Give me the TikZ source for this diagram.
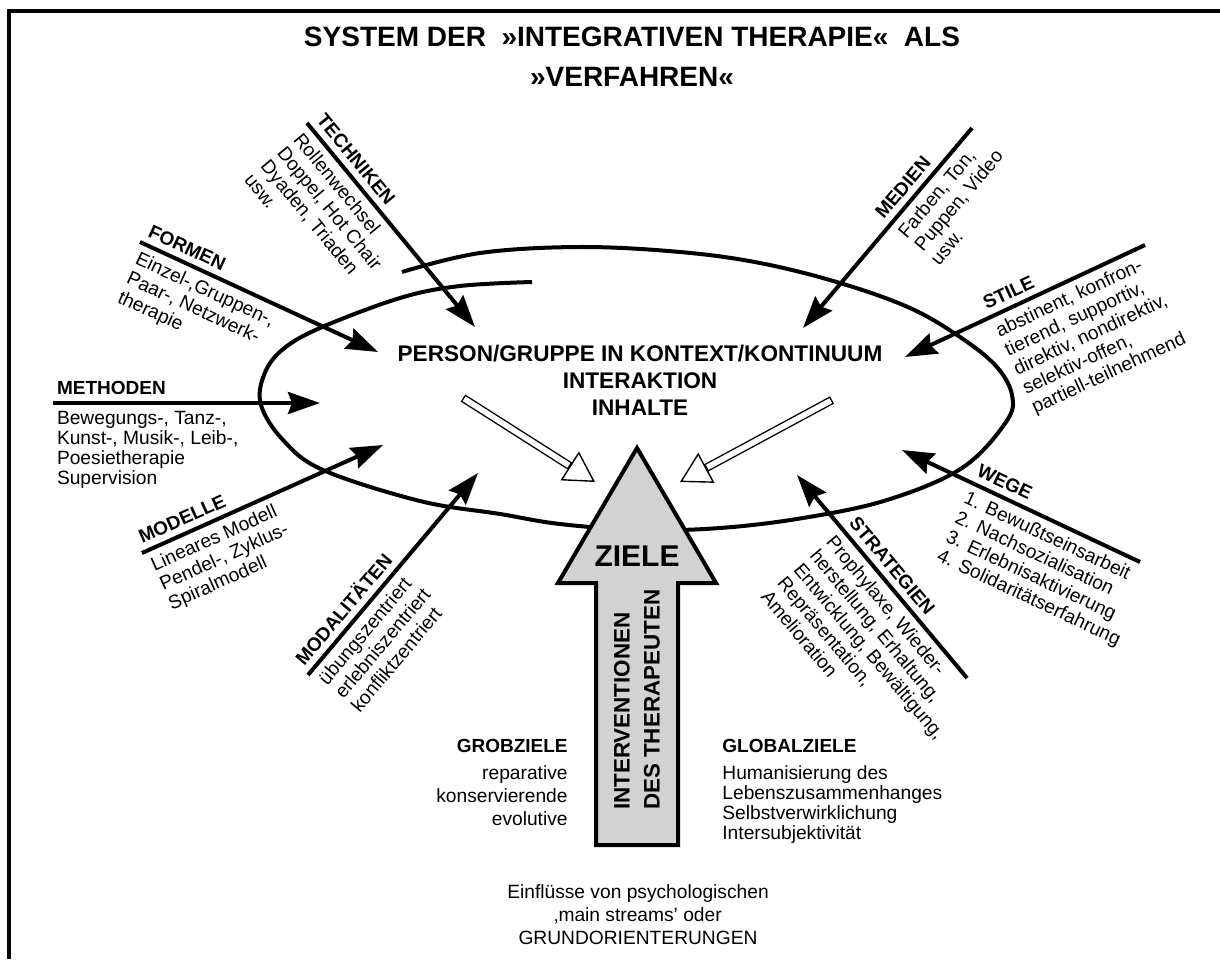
\documentclass[tikz,border=0pt]{standalone}
\usepackage{fontspec}
\setmainfont{Liberation Sans}
\usetikzlibrary{arrows.meta}

\tikzset{
  frame/.style={line width=1.7pt},
  spiral/.style={line width=2pt},
  inarrow/.style={line width=2pt, -{Stealth[length=16pt, width=11pt, inset=2pt]}},
  hollow/.style={line width=4.2pt, -{Triangle[length=15pt, width=17pt, line width=0.7pt, fill=white]}},
  hollowin/.style={white, line width=2.8pt, shorten >=15.5pt, shorten <=0.7pt},
  bigarrow/.style={line width=2pt, fill=gray!35, line join=miter},
  head/.style={font=\fontsize{9.5}{11}\selectfont\bfseries, inner xsep=1pt, inner ysep=3pt},
  body/.style={font=\fontsize{9.6}{10.6}\selectfont, align=left, inner xsep=1pt, inner ysep=3pt},
  titletext/.style={font=\fontsize{14}{20}\selectfont\bfseries, align=center},
  centertext/.style={font=\fontsize{11.3}{13.5}\selectfont\bfseries, align=center},
  shafttext/.style={font=\fontsize{11.2}{15}\selectfont\bfseries, align=left},
}

\begin{document}
\begin{tikzpicture}[x=0.5pt, y=-0.5pt]
\useasboundingbox (0,0) rectangle (1220,959);
\draw[frame] (9,959) -- (9,11) -- (1220,11);

\node[titletext] (title) at (632,57) {SYSTEM DER\ \ »INTEGRATIVEN THERAPIE«\ \ ALS\\»VERFAHREN«};

\draw[spiral] plot[smooth, tension=0.6] coordinates {(402,272) (480,253) (580,247) (680,252) (760,263) (840,283) (910,308) (960,337) (996,366) (1012,395) (1006,422) (962,468) (887,500) (803,518) (720,528) (640,530) (560,524) (500,514) (420,501) (323,470) (283,440) (261,405) (264,375) (282,350) (320,328) (400,298) (460,286) (532,282)};

\node[centertext] (person) at (640,380) {PERSON/GRUPPE IN KONTEXT/KONTINUUM\\INTERAKTION\\INHALTE};

\coordinate (techA) at (307,123);
\coordinate (techB) at (475,327);
\draw[inarrow] (techA) -- (techB)
  node[pos=0, sloped, anchor=south west, head] (techH) {TECHNIKEN}
  node[pos=0, sloped, anchor=north west, body] (techT) {Rollenwechsel\\Doppel, Hot Chair\\Dyaden, Triaden\\usw.};

\coordinate (formA) at (140,242);
\coordinate (formB) at (378,352);
\draw[inarrow] (formA) -- (formB)
  node[pos=0, sloped, anchor=south west, head] (formH) {FORMEN}
  node[pos=0, sloped, anchor=north west, body] (formT) {Einzel-,Gruppen-,\\Paar-, Netzwerk-\\therapie};

\coordinate (methA) at (53,403);
\coordinate (methB) at (320,403);
\draw[inarrow] (methA) -- (methB)
  node[pos=0, anchor=south west, head] (methH) {METHODEN}
  node[pos=0, anchor=north west, body, font=\fontsize{9.6}{10}\selectfont] (methT) {Bewegungs-, Tanz-,\\Kunst-, Musik-, Leib-,\\Poesietherapie\\Supervision};

\coordinate (modeA) at (142,553);
\coordinate (modeB) at (383,445);
\draw[inarrow] (modeA) -- (modeB)
  node[pos=0, sloped, anchor=south west, head] (modeH) {MODELLE}
  node[pos=0, sloped, anchor=north west, body] (modeT) {Lineares Modell\\Pendel-, Zyklus-\\Spiralmodell};

\coordinate (modaA) at (308,675);
\coordinate (modaB) at (478,473);
\draw[inarrow] (modaA) -- (modaB)
  node[pos=0, sloped, anchor=south west, head] (modaH) {MODALITÄTEN}
  node[pos=0, sloped, anchor=north west, body] (modaT) {übungszentriert\\erlebniszentriert\\konfliktzentriert};

\coordinate (mediA) at (972,128);
\coordinate (mediB) at (803,328);
\draw[inarrow] (mediA) -- (mediB)
  node[pos=0.5, sloped, anchor=south west, head] (mediH) {MEDIEN}
  node[pos=0.5, sloped, anchor=north west, body] (mediT) {Farben, Ton,\\Puppen, Video\\usw.};

\coordinate (stilA) at (1145,245);
\coordinate (stilB) at (905,357);
\draw[inarrow] (stilA) -- (stilB)
  node[pos=0.66, sloped, anchor=south west, head] (stilH) {STILE}
  node[pos=0.66, sloped, anchor=north west, body] (stilT) {abstinent, konfron-\\tierend, supportiv,\\direktiv, nondirektiv,\\selektiv-offen,\\partiell-teilnehmend};

\coordinate (wegeA) at (1140,562);
\coordinate (wegeB) at (902,450);
\draw[inarrow] (wegeA) -- (wegeB)
  node[pos=0.72, sloped, anchor=south west, head] (wegeH) {WEGE}
  node[pos=0.72, sloped, anchor=north west, body] (wegeT) {1. Bewußtseinsarbeit\\2. Nachsozialisation\\3. Erlebnisaktivierung\\4. Solidaritätserfahrung};

\coordinate (stratA) at (967,678);
\coordinate (stratB) at (797,475);
\draw[inarrow] (stratA) -- (stratB)
  node[pos=0.75, sloped, anchor=south west, head] (stratH) {STRATEGIEN}
  node[pos=0.75, sloped, anchor=north west, body] (stratT) {Prophylaxe, Wieder-\\herstellung, Erhaltung,\\Entwicklung, Bewältigung,\\Repräsentation,\\Amelioration};

\coordinate (hollA1) at (463,398);
\coordinate (hollA2) at (595,482);
\coordinate (hollB1) at (832,400);
\coordinate (hollB2) at (680,482);
\draw[hollow] (hollA1) -- (hollA2);
\draw[hollowin] (hollA1) -- (hollA2);
\draw[hollow] (hollB1) -- (hollB2);
\draw[hollowin] (hollB1) -- (hollB2);

\draw[bigarrow] (596,845) -- (596,583) -- (558,583) -- (637,448) -- (716,583) -- (678,583) -- (678,845) -- cycle;
\node[font=\fontsize{15}{15}\selectfont\bfseries] (ziele) at (637,556) {ZIELE};
\node[shafttext, rotate=90, anchor=west] (interv) at (637,817) {INTERVENTIONEN\\DES THERAPEUTEN};

\node[head, anchor=south east, inner sep=0pt] (grobH) at (568,753) {GROBZIELE};
\node[body, align=right, anchor=north east, inner sep=0pt, font=\fontsize{9.6}{11.5}\selectfont] (grobT) at (568,765) {reparative\\konservierende\\evolutive};

\node[head, anchor=south west, inner sep=0pt] (globH) at (722,753) {GLOBALZIELE};
\node[body, anchor=north west, inner sep=0pt, font=\fontsize{9.6}{10}\selectfont] (globT) at (722,765) {Humanisierung des\\Lebenszusammenhanges\\Selbstverwirklichung\\Intersubjektivität};

\node[align=center, font=\fontsize{9.6}{11.5}\selectfont] (einfl) at (638,915) {Einflüsse von psychologischen\\‚main streams' oder\\GRUNDORIENTERUNGEN};
\end{tikzpicture}
\end{document}
